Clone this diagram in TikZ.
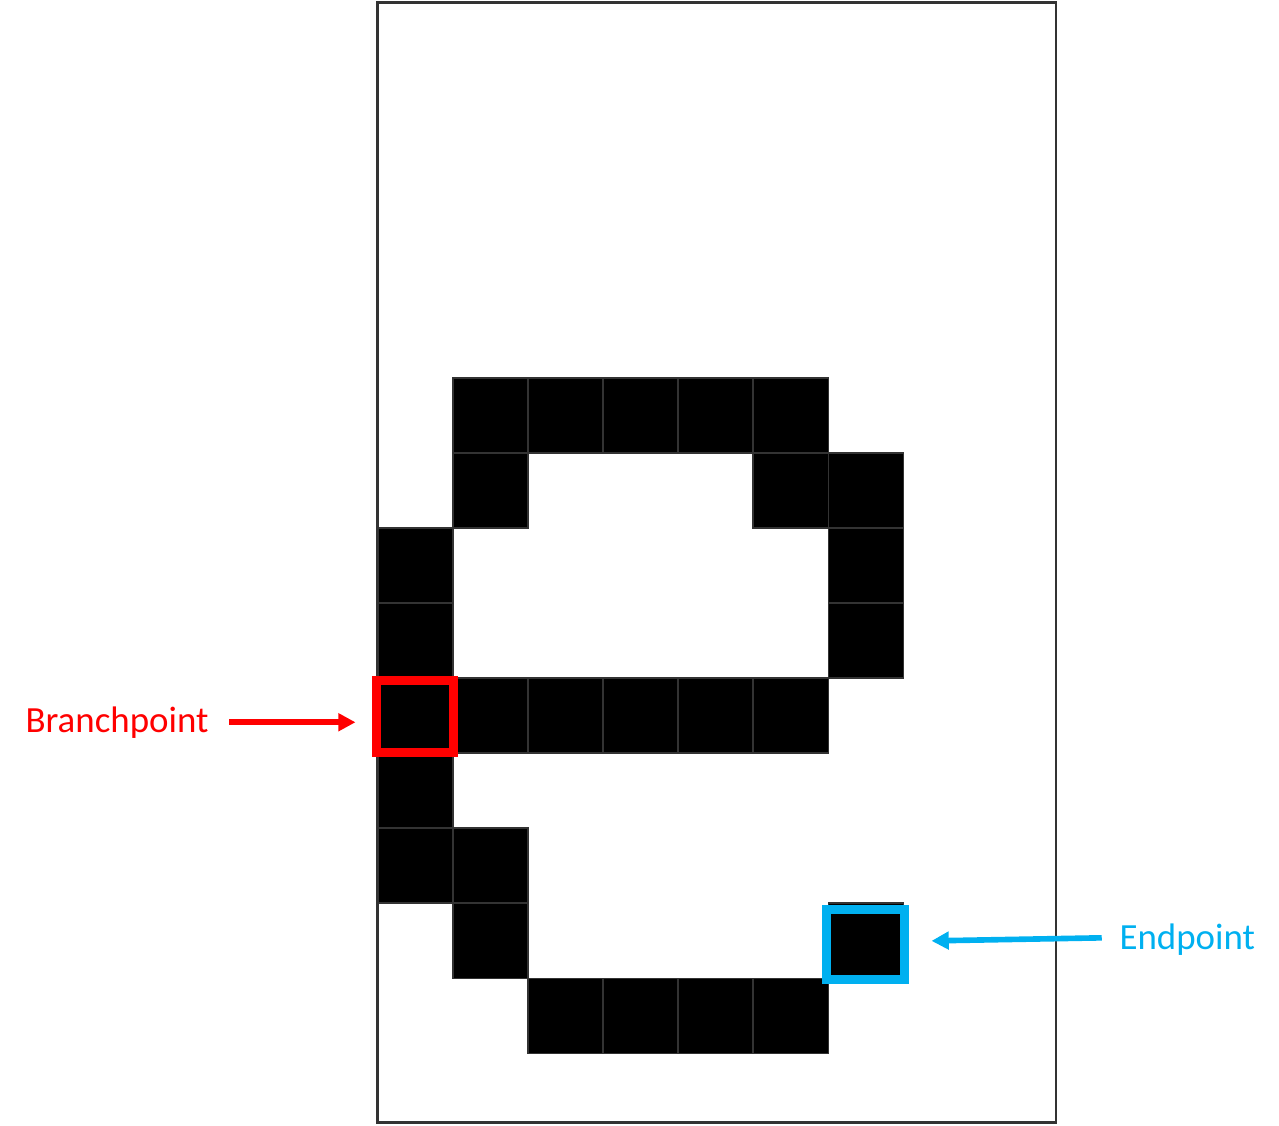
\documentclass[tikz,border=0pt]{standalone}
\usepackage{fontspec}
\setmainfont{Carlito}
\usepackage{tikz}
\usetikzlibrary{arrows.meta, positioning}
\definecolor{branchred}{HTML}{FF0000}
\definecolor{endblue}{HTML}{00B0F0}
\definecolor{framegray}{HTML}{333333}

\begin{document}
\begin{tikzpicture}[
  pixel/.style={fill=black, draw=framegray, line width=0.4pt},
  markbox/.style={draw=#1, line width=0.12cm, inner sep=0pt},
  pointer/.style={-{Triangle[length=0.23cm,width=0.23cm]}, line width=0.075cm},
  tag/.style={font=\fontsize{14}{16}\selectfont, inner sep=0pt}
]
\useasboundingbox (0,0) rectangle (17.053,15);
\draw[framegray, line width=1.1pt] (5.03,0.03) rectangle (14.08,14.97);
\foreach \c/\r in {1/5,2/5,3/5,4/5,5/5,1/6,5/6,6/6,0/7,6/7,0/8,6/8,
  0/9,1/9,2/9,3/9,4/9,5/9,0/10,0/11,1/11,1/12,6/12,2/13,3/13,4/13,5/13}
  \draw[pixel] (5.04+\c,13.96-\r) rectangle ++(1,1);
\node[markbox=branchred, minimum width=1.02cm, minimum height=0.96cm] (branch) at (5.53,5.45) {};
\node[markbox=endblue, minimum width=1.04cm, minimum height=0.93cm] (endpt) at (11.54,2.41) {};
\node[tag, text=branchred] (blabel) at (1.56,5.37) {Branchpoint};
\node[tag, text=endblue] (elabel) at (15.83,2.47) {Endpoint};
\draw[pointer, branchred, shorten <=0.27cm, shorten >=0.22cm] (blabel.east) -- (blabel.east -| branch.west);
\draw[pointer, endblue, shorten <=0.23cm, shorten >=0.3cm] ([yshift=0.03cm]elabel.west) -- ([yshift=0.04cm]endpt.east);
\end{tikzpicture}
\end{document}
